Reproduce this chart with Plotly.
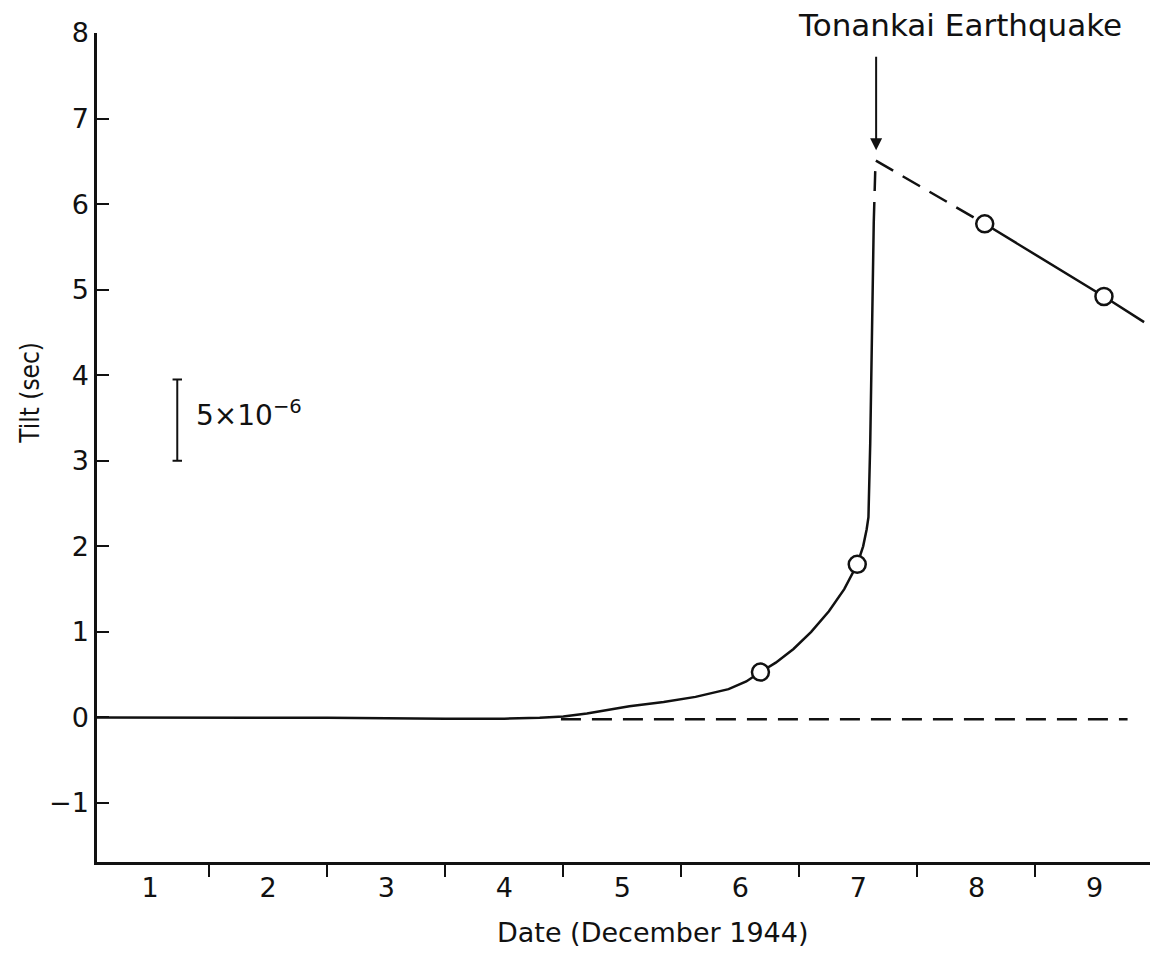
import plotly.graph_objects as go

# ---- data ----
pre_x = [1.05, 2.0, 3.0, 4.0, 4.5, 4.8, 5.0, 5.2, 5.4, 5.56, 5.85, 6.12, 6.4,
         6.55, 6.67, 6.8, 6.95, 7.1, 7.25, 7.38, 7.49, 7.54, 7.57, 7.585,
         7.6, 7.615, 7.63]
pre_y = [0.0, 0.0, -0.005, -0.015, -0.015, -0.005, 0.01, 0.045, 0.09, 0.13,
         0.18, 0.24, 0.33, 0.42, 0.53, 0.64, 0.8, 1.0, 1.24, 1.5, 1.79, 2.0,
         2.2, 2.34, 3.2, 4.5, 5.79]
jump_x = [7.63, 7.645, 8.57]
jump_y = [5.79, 6.51, 5.77]
post_x = [8.57, 9.58, 9.92]
post_y = [5.77, 4.92, 4.62]
obs_x = [6.67, 7.49, 8.57, 9.58]
obs_y = [0.53, 1.79, 5.77, 4.92]
base_x = [4.98, 9.78]
base_y = [-0.02, -0.02]
day_centers = [1.5, 2.5, 3.5, 4.5, 5.5, 6.5, 7.5, 8.5, 9.5]
day_labels = ["1", "2", "3", "4", "5", "6", "7", "8", "9"]
y_ticks = [-1, 0, 1, 2, 3, 4, 5, 6, 7, 8]
quake_day = 7.65
scale_bar = [3.0, 3.95]

FONT = "DejaVu Sans"
black = "#111111"

fig = go.Figure()
fig.add_trace(go.Scatter(x=base_x, y=base_y, mode="lines",
                         line=dict(color=black, width=2.5, dash="20px,11px"),
                         showlegend=False, hoverinfo="skip"))
fig.add_trace(go.Scatter(x=pre_x, y=pre_y, mode="lines",
                         line=dict(color=black, width=2.5),
                         showlegend=False))
fig.add_trace(go.Scatter(x=jump_x, y=jump_y, mode="lines",
                         line=dict(color=black, width=2.5, dash="20px,11px"),
                         showlegend=False))
fig.add_trace(go.Scatter(x=post_x, y=post_y, mode="lines",
                         line=dict(color=black, width=2.5),
                         showlegend=False))
fig.add_trace(go.Scatter(x=obs_x, y=obs_y, mode="markers",
                         marker=dict(size=17, color="white",
                                     line=dict(color=black, width=2.5)),
                         showlegend=False))

# scale bar
sb_x = 1.73
fig.add_shape(type="line", x0=sb_x, x1=sb_x, y0=scale_bar[0], y1=scale_bar[1],
              line=dict(color=black, width=2))
for yy in scale_bar:
    fig.add_shape(type="line", x0=sb_x - 0.04, x1=sb_x + 0.04, y0=yy, y1=yy,
                  line=dict(color=black, width=2))
fig.add_annotation(x=1.87, y=3.55, xanchor="left", yanchor="middle",
                   text="5×10<sup>−6</sup>", showarrow=False,
                   font=dict(family=FONT, size=28, color=black))

# earthquake arrow and label
fig.add_annotation(x=quake_day, y=6.63, ax=0, ay=-95, showarrow=True,
                   arrowhead=2, arrowsize=1.2, arrowwidth=2, arrowcolor=black,
                   text="")
fig.add_annotation(x=8.36, y=1.0097, yref="paper", text="Tonankai Earthquake",
                   showarrow=False, xanchor="center", yanchor="middle",
                   font=dict(family=FONT, size=31, color=black))

# axis titles
fig.add_annotation(x=-0.0636, y=0.566, xref="paper", yref="paper",
                   xanchor="center", yanchor="middle",
                   text="Tilt (sec)", textangle=-90, showarrow=False,
                   font=dict(family="DejaVu Sans Condensed, DejaVu Sans",
                             size=26, color=black))
fig.add_annotation(x=0.528, y=-0.0856, xref="paper", yref="paper",
                   xanchor="center", yanchor="middle",
                   text="Date (December 1944)", showarrow=False,
                   font=dict(family=FONT, size=27, color=black))

fig.update_layout(
    width=1153, height=960,
    margin=dict(l=97, r=3, t=33, b=98),
    paper_bgcolor="white", plot_bgcolor="white",
    showlegend=False,
    font=dict(family=FONT, color=black),
    xaxis=dict(range=[1.05, 9.97], showgrid=False, zeroline=False,
               showline=True, linecolor=black, linewidth=2.5,
               tickvals=day_centers, ticktext=day_labels, ticks="",
               ticklen=0, tickfont=dict(family=FONT, size=27, color=black),
               minor=dict(tick0=1, dtick=1, ticks="outside", ticklen=12,
                          tickwidth=2, tickcolor=black, showgrid=False)),
    yaxis=dict(range=[-1.69, 8], showgrid=False, zeroline=False,
               showline=True, linecolor=black, linewidth=2.5,
               tickvals=y_ticks, ticks="inside", ticklen=12, tickwidth=2,
               tickcolor=black, tickfont=dict(family=FONT, size=27, color=black)),
)

fig.write_html("out.html")
